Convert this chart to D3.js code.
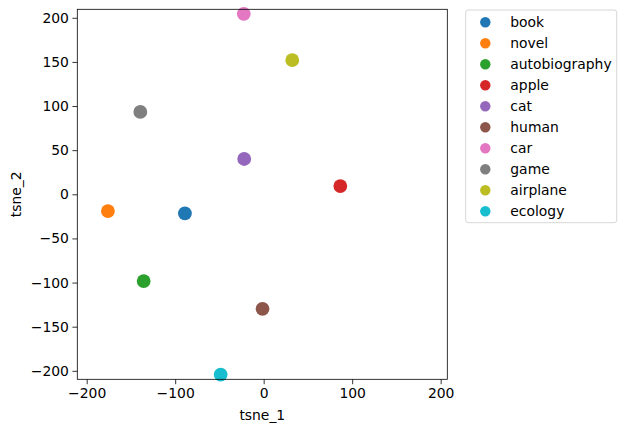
<!DOCTYPE html>
<html><head><meta charset="utf-8">
<script src="https://cdn.jsdelivr.net/npm/d3@7"></script>
<style>body{margin:0;background:#fff}svg{display:block}text{font-family:"DejaVu Sans",sans-serif}</style>
</head><body>
<svg id="c" width="627" height="432"></svg>
<script>
const labels = ["book","novel","autobiography","apple","cat","human","car","game","airplane","ecology"];
const xs = [-89, -176, -135.6, 86.6, -22, -1.3, -22.5, -139.4, 32.3, -48.6];
const ys = [-21.7, -19, -98.3, 9.3, 40, -129.8, 204.5, 93.3, 152, -204.3];
const colors = ["#1f77b4","#ff7f0e","#2ca02c","#d62728","#9467bd","#8c564b","#e377c2","#7f7f7f","#bcbd22","#17becf"];
const xTicks = [-200,-100,0,100,200];
const yTicks = [-200,-150,-100,-50,0,50,100,150,200];

const svg = d3.select("#c");
const L=77.3, R=447.3, T=9.3, B=379.3;
const x = d3.scaleLinear().domain([-210.6,207.5]).range([L,R]);
const y = d3.scaleLinear().domain([-209.6,209.6]).range([B,T]);

svg.selectAll("circle.pt").data(labels).enter().append("circle")
  .attr("class","pt")
  .attr("cx",(d,i)=>x(xs[i])).attr("cy",(d,i)=>y(ys[i]))
  .attr("r",6.9).attr("fill",(d,i)=>colors[i]);

const xa = svg.append("g").attr("transform",`translate(0,${B})`)
  .call(d3.axisBottom(x).tickValues(xTicks).tickSize(4.9).tickPadding(3.5).tickFormat(d=>String(d).replace("-","\u2212")));
const ya = svg.append("g").attr("transform",`translate(${L},0)`)
  .call(d3.axisLeft(y).tickValues(yTicks).tickSize(4.9).tickPadding(3.5).tickFormat(d=>String(d).replace("-","\u2212")));
[xa,ya].forEach(a=>{
  a.select(".domain").remove();
  a.selectAll("line").attr("stroke","#000").attr("stroke-width",0.8);
  a.selectAll("text").attr("font-size","13.9px").attr("fill","#000").style("font-family","DejaVu Sans");
});
svg.append("rect").attr("x",L).attr("y",T).attr("width",R-L).attr("height",B-T)
  .attr("fill","none").attr("stroke","#000").attr("stroke-width",0.8);

svg.append("text").attr("x",(L+R)/2).attr("y",420).attr("text-anchor","middle")
  .attr("font-size","13.9px").text("tsne_1");
svg.append("text").attr("transform",`translate(21,${(T+B)/2}) rotate(-90)`).attr("text-anchor","middle")
  .attr("font-size","13.9px").text("tsne_2");

// legend
const lg = svg.append("g");
lg.append("rect").attr("x",465.7).attr("y",10).attr("width",151).attr("height",212.7)
  .attr("rx",2.5).attr("fill","#fff").attr("stroke","#cccccc").attr("stroke-width",0.8);
const rows = lg.selectAll("g.row").data(labels).enter().append("g")
  .attr("transform",(d,i)=>`translate(0,${22.3+i*21})`);
rows.append("circle").attr("cx",485.3).attr("cy",0).attr("r",5.2).attr("fill",(d,i)=>colors[i]);
rows.append("text").attr("x",510.3).attr("y",0).attr("dy","0.35em").attr("font-size","13.9px").text(d=>d);
</script>
</body></html>
